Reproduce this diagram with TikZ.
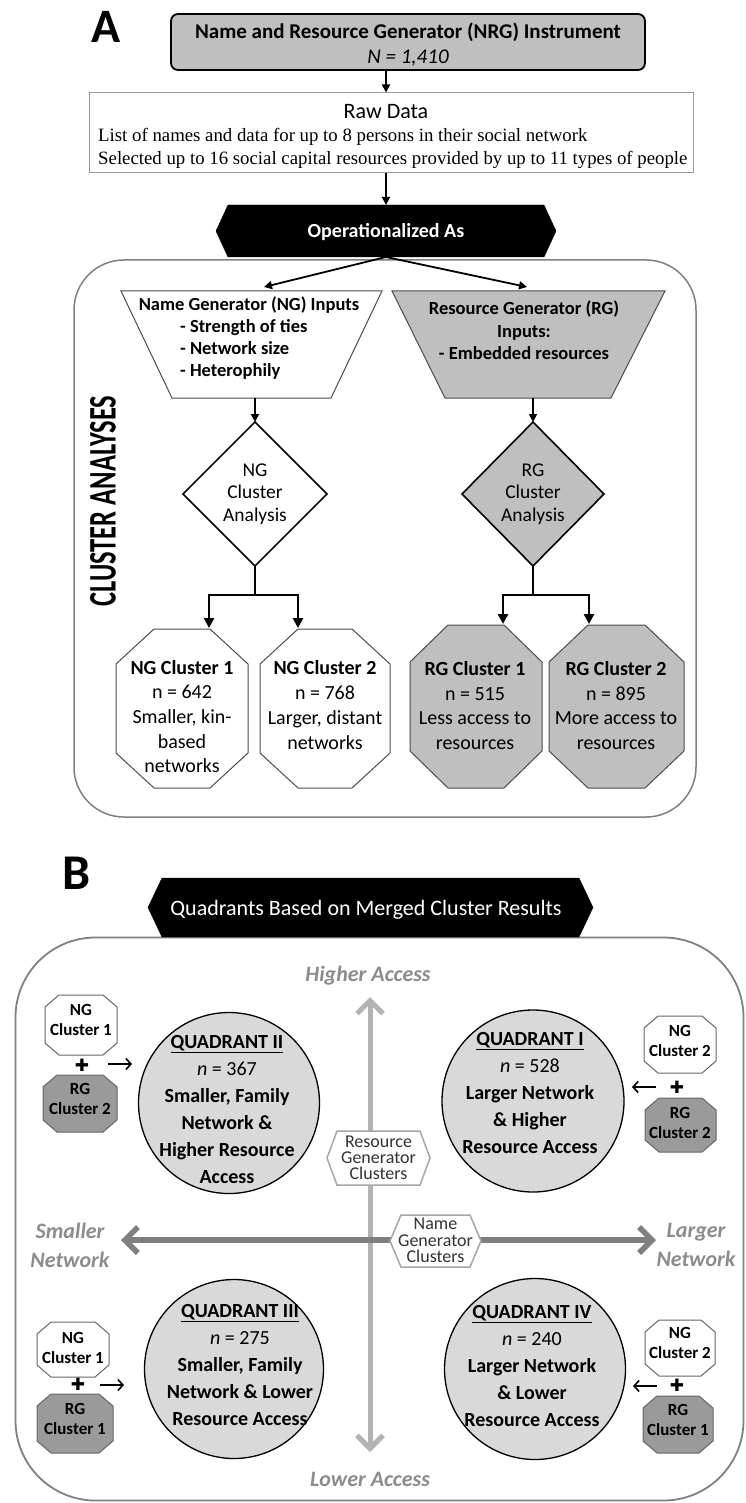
\documentclass[tikz,border=0pt]{standalone}
\usepackage{fontspec}
\setmainfont{Carlito}
\newfontfamily\timesf{Liberation Serif}
\newfontfamily\clfont{Carlito}[FakeStretch=0.68]
\newfontfamily\djv{DejaVu Sans}
\usetikzlibrary{arrows.meta}
\definecolor{lgray}{HTML}{BFBFBF}
\definecolor{qgray}{HTML}{D9D9D9}
\definecolor{dgray}{HTML}{9A9A9A}
\definecolor{boxgray}{HTML}{808080}
\definecolor{txtgray}{HTML}{8C8C8C}
\definecolor{vgray}{HTML}{B3B3B3}
\definecolor{hgray}{HTML}{7F7F7F}
\definecolor{hexline}{HTML}{A6A6A6}
\newcommand\myfs[2]{\fontsize{#1}{#2}\selectfont}
% octagon: style, cx, cy, half width, half height, chamfer x, chamfer y
\newcommand\octo[7]{\draw[#1] ({#2-#4+#6},{#3-#5}) -- ({#2+#4-#6},{#3-#5}) -- ({#2+#4},{#3-#5+#7}) -- ({#2+#4},{#3+#5-#7}) -- ({#2+#4-#6},{#3+#5}) -- ({#2-#4+#6},{#3+#5}) -- ({#2-#4},{#3+#5-#7}) -- ({#2-#4},{#3-#5+#7}) -- cycle;}
% hexagon: style, cx, cy, half width, half height, slant
\newcommand\hexa[6]{\draw[#1] ({#2-#4},{#3}) -- ({#2-#4+#6},{#3-#5}) -- ({#2+#4-#6},{#3-#5}) -- ({#2+#4},{#3}) -- ({#2+#4-#6},{#3+#5}) -- ({#2-#4+#6},{#3+#5}) -- cycle;}
\begin{document}
\begin{tikzpicture}[x=1pt,y=-1pt,
  txt/.style={inner sep=0pt, align=center},
  arr/.style={line width=1.8pt, -{Triangle[length=8pt,width=8pt]}},
  brarr/.style={line width=2.6pt, -{Triangle[length=10pt,width=10pt]}},
  ngoct/.style={draw=black!70, line width=1pt, fill=white},
  rgoct/.style={draw=black!70, line width=1pt, fill=lgray},
  smng/.style={draw=black!60, line width=1pt, fill=white},
  smrg/.style={draw=black!60, line width=1pt, fill=dgray},
  smtxt/.style={txt, font=\bfseries\myfs{17}{20}},
  smarr/.style={line width=1.6pt, -{Straight Barb[length=5pt,width=11pt]}},
  gaxis/.style={txt, text=txtgray, font=\bfseries\itshape\myfs{22}{29}},
  barb/.tip={Straight Barb[length=13pt,width=26pt]},
]
\useasboundingbox (0,0) rectangle (745,1503);
\fill[white] (0,0) rectangle (745,1503);

%================ PART A ================
\node[txt, font=\bfseries\myfs{48}{48}] (lblA) at (106,27) {A};

\node[draw, line width=1.8pt, fill=lgray, rounded corners=7pt, minimum width=474pt, minimum height=56pt, inner sep=0pt] (nrg) at (408,42) {};
\node[txt, font=\myfs{21}{25}] (nrgt) at (408,45) {{\bfseries Name and Resource Generator (NRG) Instrument}\\{\itshape N = 1,410}};

\node[draw=black!40, line width=1pt, minimum width=604pt, minimum height=80pt, inner sep=0pt] (raw) at (391,133) {};
\node[txt, font=\myfs{22}{22}] (rawt) at (386,112) {Raw Data};
\node[txt, anchor=west, font=\timesf\myfs{18.8}{19}] (raw1) at (98,137) {List of names and data for up to 8 persons in their social network};
\node[txt, anchor=west, font=\timesf\myfs{18.8}{19}] (raw2) at (98,160) {Selected up to 16 social capital resources provided by up to 11 types of people};

% cluster box
\node[draw=boxgray, line width=1.5pt, rounded corners=50pt, minimum width=622pt, minimum height=557pt, inner sep=0pt] (cbox) at (385,538.5) {};

% operationalized hex
\hexa{fill=black}{386}{231}{170}{26}{12}
\node[txt, text=white, font=\bfseries\myfs{20}{20}] (op) at (386,232) {Operationalized As};
\coordinate (optop) at (386,205);
\coordinate (opbot) at (386,257);

\draw[arr] (nrg.south -| optop) -- (raw.north -| optop);
\draw[arr] (raw.south -| optop) -- (optop);

% trapezoids
\draw[draw=black!70, line width=1pt, fill=white] (121,291) -- (382,291) -- (331,398) -- (172,398) -- cycle;
\draw[draw=black!70, line width=1pt, fill=lgray] (392,291) -- (665,291) -- (611,398) -- (445,398) -- cycle;
\coordinate (ngin) at (264,287);
\coordinate (rgin) at (527,287);
\draw[arr] (opbot) -- (ngin);
\draw[arr] (opbot) -- (rgin);

\node[txt, font=\bfseries\myfs{18.5}{22}] (ngh) at (249,305) {Name Generator (NG) Inputs};
\node[txt, anchor=west, align=left, font=\bfseries\myfs{18.5}{22}] (ngl) at (180,349) {- Strength of ties\\- Network size\\- Heterophily};
\node[txt, font=\bfseries\myfs{18.5}{22.5}] (rgh) at (524,330.5) {Resource Generator (RG)\\Inputs:\\- Embedded resources};

% diamonds
\coordinate (ngbot) at (255,398);
\coordinate (ngdt) at (255,422);
\coordinate (ngdb) at (255,566);
\coordinate (rgbot) at (533,398);
\coordinate (rgdt) at (533,422);
\coordinate (rgdb) at (533,566);
\draw[line width=1.6pt, fill=white] (ngdt) -- (327,494) -- (ngdb) -- (183,494) -- cycle;
\draw[line width=1.6pt, fill=lgray] (rgdt) -- (604,494) -- (rgdb) -- (462,494) -- cycle;
\draw[arr] (ngbot) -- (ngdt);
\draw[arr] (rgbot) -- (rgdt);
\node[txt, font=\myfs{19.5}{22.5}] (ngd) at (255,494) {NG\\Cluster\\Analysis};
\node[txt, font=\myfs{19.5}{22.5}] (rgd) at (533,494) {RG\\Cluster\\Analysis};

% octagons A
\octo{ngoct}{182}{708.5}{66}{79.5}{38}{35}
\octo{ngoct}{325}{708.5}{65}{79.5}{38}{35}
\octo{rgoct}{476}{706.5}{66}{81.5}{38}{37}
\octo{rgoct}{616.5}{706.5}{67.5}{81.5}{39}{37}

\coordinate (ng1c) at (209,628);
\coordinate (ng2c) at (298,628);
\coordinate (rg1c) at (503,624);
\coordinate (rg2c) at (589,624);
\draw[brarr] (ngdb) -- ++(0,29) -| (ng1c);
\draw[brarr] (ngdb) -- ++(0,29) -| (ng2c);
\draw[brarr] (rgdb) -- ++(0,29) -| (rg1c);
\draw[brarr] (rgdb) -- ++(0,29) -| (rg2c);

\node[txt, font=\myfs{20}{24.7}] (ng1) at (182,716.5) {\textbf{NG Cluster 1}\\n = 642\\Smaller, kin-\\based\\networks};
\node[txt, font=\myfs{20}{24.7}] (ng2) at (325,705) {\textbf{NG Cluster 2}\\n = 768\\Larger, distant\\networks};
\node[txt, font=\myfs{20}{24.7}] (rg1) at (475,705.5) {\textbf{RG Cluster 1}\\n = 515\\Less access to\\resources};
\node[txt, font=\myfs{20}{24.7}] (rg2) at (616,705.5) {\textbf{RG Cluster 2}\\n = 895\\More access to\\resources};

\node[txt, rotate=90, font=\clfont\bfseries\myfs{39}{39}] (cla) at (103,501) {CLUSTER ANALYSES};

%================ PART B ================
\node[txt, font=\bfseries\myfs{50}{50}] (lblB) at (77,873) {B};

\node[draw=boxgray, line width=1.8pt, rounded corners=80pt, minimum width=728pt, minimum height=563pt, inner sep=0pt] (bbox) at (379.5,1219) {};

\hexa{fill=black}{370.5}{907.5}{222.5}{29.5}{14}
\node[txt, text=white, font=\myfs{22}{22}] (qt) at (366,910) {Quadrants Based on Merged Cluster Results};

\node[gaxis] (hacc) at (368,976) {Higher Access};
\node[gaxis] (lacc) at (370,1479) {Lower Access};
\node[gaxis] (snet) at (70,1245) {Smaller\\Network};
\node[gaxis] (lnet) at (696,1245) {Larger\\Network};

\coordinate (vtop) at (370,997);
\coordinate (vbot) at (370,1452);
\coordinate (hl) at (121,1240);
\coordinate (hr) at (656,1240);
\draw[draw=vgray, line width=5pt, barb-barb] (vbot) -- (vtop);
\draw[draw=hgray, line width=5.5pt, barb-barb] (hl) -- (hr);

\hexa{draw=hexline, line width=1.5pt, fill=white}{378.5}{1158}{51.5}{27}{10}
\node[txt, text=black!80, font=\myfs{18}{16}] (rgc) at (378.5,1158) {Resource\\Generator\\Clusters};
\hexa{draw=hexline, line width=1.5pt, fill=white}{435.5}{1241}{45.5}{26}{11}
\node[txt, text=black!80, font=\myfs{18}{16.5}] (ngc) at (435.5,1240.5) {Name\\Generator\\Clusters};

% quadrant circles
\tikzset{quad/.style={circle, draw, line width=1.3pt, fill=qgray, inner sep=0pt}}
\node[quad, minimum size=181pt] (q2) at (229,1103) {};
\node[quad, minimum size=182pt] (q1) at (533,1101) {};
\node[quad, minimum size=179pt] (q3) at (234,1369) {};
\node[quad, minimum size=181pt] (q4) at (535,1369) {};
\node[txt, font=\myfs{20}{27}] (q2t) at (227,1109.5) {\underline{\textbf{QUADRANT II}}\\\textit{n} = 367\\\textbf{Smaller, Family}\\\textbf{Network \&}\\\textbf{Higher Resource}\\\textbf{Access}};
\node[txt, font=\myfs{20}{27}] (q1t) at (530,1093) {\underline{\textbf{QUADRANT I}}\\\textit{n} = 528\\\textbf{Larger Network}\\\textbf{\& Higher}\\\textbf{Resource Access}};
\node[txt, font=\myfs{20}{27}] (q3t) at (240,1364.5) {\underline{\textbf{QUADRANT III}}\\\textit{n} = 275\\\textbf{Smaller, Family}\\\textbf{Network \& Lower}\\\textbf{Resource Access}};
\node[txt, font=\myfs{20}{27}] (q4t) at (532,1366) {\underline{\textbf{QUADRANT IV}}\\\textit{n} = 240\\\textbf{Larger Network}\\\textbf{\& Lower}\\\textbf{Resource Access}};

% small octagons
\octo{smng}{81}{1025}{36}{30}{14}{12}
\node[smtxt] (tlng) at (81,1020) {NG\\Cluster 1};
\octo{smrg}{80}{1103.5}{37}{28.5}{14}{12}
\node[smtxt] (tlrg) at (80,1099) {RG\\Cluster 2};
\node[txt, font=\djv\myfs{17}{17}] (tlp) at (82,1065) {✚};
\coordinate (tla) at (108,1064);
\coordinate (tlb) at (132,1064);
\draw[smarr] (tla) -- (tlb);

\octo{smng}{680}{1044.5}{36}{28.5}{14}{12}
\node[smtxt] (trng) at (680,1041) {NG\\Cluster 2};
\octo{smrg}{680.5}{1125}{35.5}{27}{14}{12}
\node[smtxt] (trrg) at (680,1123) {RG\\Cluster 2};
\node[txt, font=\djv\myfs{17}{17}] (trp) at (677,1087) {✚};
\coordinate (tra) at (656,1087);
\coordinate (trb) at (632,1087);
\draw[smarr] (tra) -- (trb);

\octo{smng}{73}{1349.5}{36}{27.5}{14}{12}
\node[smtxt] (blng) at (73,1347.5) {NG\\Cluster 1};
\octo{smrg}{75}{1423.5}{38}{29.5}{14}{12}
\node[smtxt] (blrg) at (75,1419) {RG\\Cluster 1};
\node[txt, font=\djv\myfs{17}{17}] (blp) at (78,1384) {✚};
\coordinate (bla) at (100,1385);
\coordinate (blb) at (124,1385);
\draw[smarr] (bla) -- (blb);

\octo{smng}{680}{1348}{35}{28}{14}{12}
\node[smtxt] (brng) at (680,1342.5) {NG\\Cluster 2};
\octo{smrg}{678}{1424.5}{35}{28.5}{14}{12}
\node[smtxt] (brrg) at (678,1420) {RG\\Cluster 1};
\node[txt, font=\djv\myfs{17}{17}] (brp) at (677,1385) {✚};
\coordinate (bra) at (657,1386);
\coordinate (brb) at (633,1386);
\draw[smarr] (bra) -- (brb);
\end{tikzpicture}
\end{document}
